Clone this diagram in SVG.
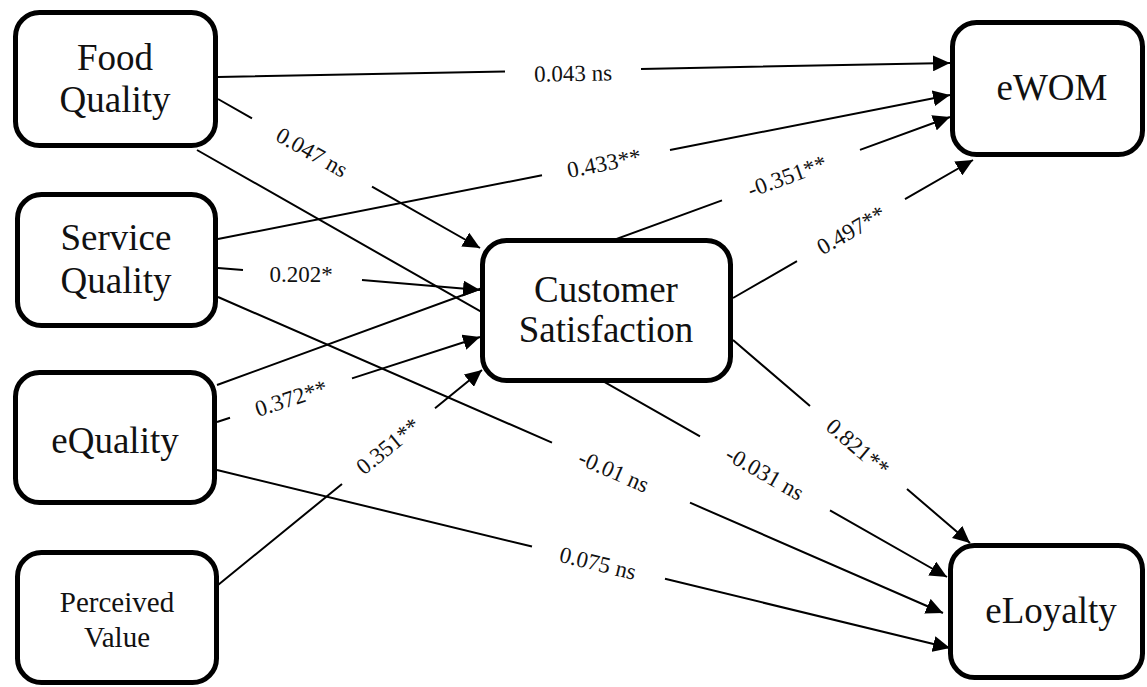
<svg xmlns="http://www.w3.org/2000/svg" width="1147" height="687" viewBox="0 0 1147 687">
<style>
.box{fill:#fff;stroke:#000;stroke-width:5}
.nt{font-family:"Liberation Serif","Times New Roman",serif;font-size:37px;fill:#111;text-anchor:middle}
.pv{font-size:29px}
.ln{fill:none;stroke:#000;stroke-width:2}
.lb{font-family:"Liberation Serif","Times New Roman",serif;font-size:23px;fill:#111;text-anchor:middle}
</style>
<defs>
<marker id="ah" markerUnits="userSpaceOnUse" markerWidth="18" markerHeight="16" refX="17" refY="8" orient="auto">
<path d="M0,0 L17,8 L0,16 z" fill="#000"/>
</marker>
</defs>
<rect width="1147" height="687" fill="#fff"/>
<g id="connectors">
<path class="ln" d="M218,77 L505,71.5 M641,68.9 L950,63" marker-end="url(#ah)"/>
<path class="ln" d="M218,99 L252,118.3 M372,186.6 L480,248" marker-end="url(#ah)"/>
<path class="ln" d="M197,150 L700,436.4 M830,510.4 L947,577" marker-end="url(#ah)"/>
<path class="ln" d="M218,239 L542,175.3 M670,150.1 L950,95" marker-end="url(#ah)"/>
<path class="ln" d="M218,268 L243,270.1 M362,280.1 L480,290" marker-end="url(#ah)"/>
<path class="ln" d="M218,297 L552,442.6 M690,502.7 L943,613" marker-end="url(#ah)"/>
<path class="ln" d="M217,385 L722,200.4 M860,149.9 L950,117" marker-end="url(#ah)"/>
<path class="ln" d="M217,422 L230,417.8 M352,378.4 L480,337" marker-end="url(#ah)"/>
<path class="ln" d="M217,470 L532,546.5 M665,578.8 L950,648" marker-end="url(#ah)"/>
<path class="ln" d="M218,585 L342,484 M435,408.3 L482,370" marker-end="url(#ah)"/>
<path class="ln" d="M733,298 L797,261.2 M905,199.1 L973,160" marker-end="url(#ah)"/>
<path class="ln" d="M733,340 L810,406 M907,489 L970,543" marker-end="url(#ah)"/>
<g id="labels">
<text class="lb" transform="translate(573,73) rotate(-1)" y="8">0.043 ns</text>
<text class="lb" transform="translate(312,152) rotate(29.6)" y="8">0.047 ns</text>
<text class="lb" transform="translate(765,473) rotate(29.6)" y="8">-0.031 ns</text>
<text class="lb" transform="translate(604,163) rotate(-11.1)" y="8">0.433**</text>
<text class="lb" transform="translate(301,274)" y="8">0.202*</text>
<text class="lb" transform="translate(614,471) rotate(23.6)" y="8">-0.01 ns</text>
<text class="lb" transform="translate(787,176) rotate(-20.1)" y="8">-0.351**</text>
<text class="lb" transform="translate(291,398) rotate(-17.9)" y="8">0.372**</text>
<text class="lb" transform="translate(598,563) rotate(13.6)" y="8">0.075 ns</text>
<text class="lb" transform="translate(388,446) rotate(-39.2)" y="8">0.351**</text>
<text class="lb" transform="translate(851,230) rotate(-29.9)" y="8">0.497**</text>
<text class="lb" transform="translate(858,447) rotate(40.6)" y="8">0.821**</text>
</g>
</g>
<g id="food-quality">
<rect class="box" x="15.5" y="12.5" width="200" height="133" rx="24"/>
<text class="nt" x="115" y="70">Food</text>
<text class="nt" x="115" y="112">Quality</text>
</g>
<g id="service-quality">
<rect class="box" x="17.5" y="194.5" width="198" height="131" rx="24"/>
<text class="nt" x="116" y="250">Service</text>
<text class="nt" x="116" y="293">Quality</text>
</g>
<g id="equality">
<rect class="box" x="15.5" y="372.5" width="199" height="130" rx="24"/>
<text class="nt" x="115" y="453">eQuality</text>
</g>
<g id="perceived-value">
<rect class="box" x="17.5" y="552.5" width="199" height="130" rx="24"/>
<text class="nt pv" x="117" y="612">Perceived</text>
<text class="nt pv" x="117" y="647">Value</text>
</g>
<g id="customer-satisfaction">
<rect class="box" x="482.5" y="240.5" width="248" height="140" rx="24"/>
<text class="nt" x="606" y="302">Customer</text>
<text class="nt" x="606" y="342">Satisfaction</text>
</g>
<g id="ewom">
<rect class="box" x="952.5" y="22.5" width="190" height="132" rx="24"/>
<text class="nt" x="1052" y="100">eWOM</text>
</g>
<g id="eloyalty">
<rect class="box" x="950.5" y="545.5" width="192" height="132" rx="24"/>
<text class="nt" x="1051" y="623">eLoyalty</text>
</g>
</svg>
